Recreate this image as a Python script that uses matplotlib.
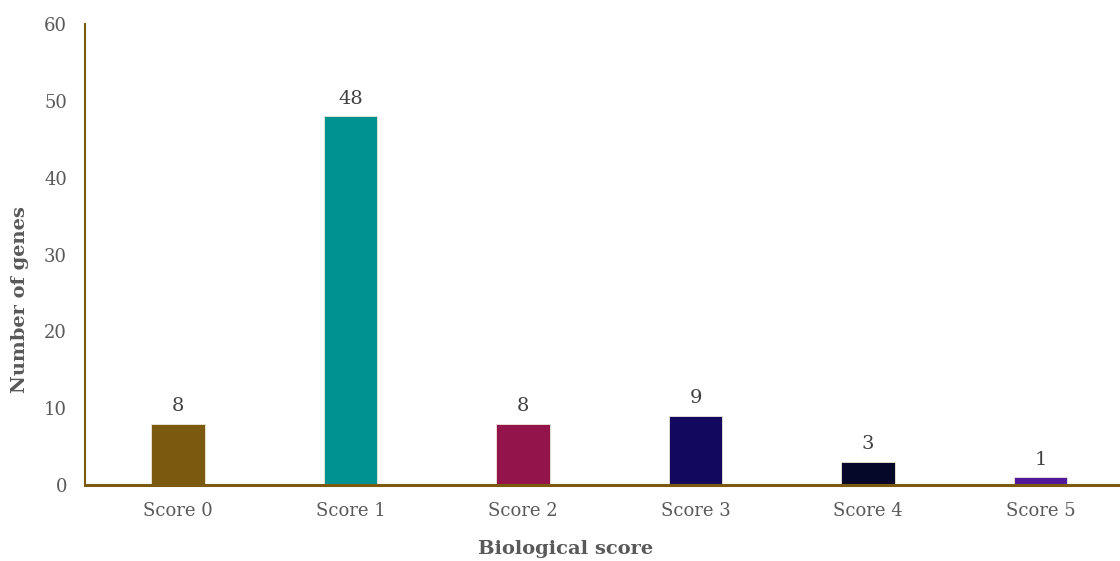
import matplotlib
matplotlib.use("Agg")
import matplotlib.pyplot as plt

categories = ["Score 0", "Score 1", "Score 2", "Score 3", "Score 4", "Score 5"]
values = [8, 48, 8, 9, 3, 1]
colors = ["#7B5A10", "#009191", "#93134B", "#12095E", "#050828", "#50199C"]
yticks = [0, 10, 20, 30, 40, 50, 60]

plt.rcParams['font.family'] = ['DejaVu Serif']
fig = plt.figure(figsize=(11.2, 5.61), dpi=100)
ax = fig.add_axes([0.0759, 0.1355, 0.9241, 0.8215])

x = range(len(categories))
bars = ax.bar(x, values, width=0.31, color=colors, edgecolor="#f0e8d8", linewidth=0.6, zorder=2)
for xi, v in zip(x, values):
    ax.text(xi, v + 1.1, str(v), ha="center", va="bottom", fontsize=14, color="#404040")

ax.set_xlim(-0.54, 5.46)
ax.set_ylim(0, 60)
ax.set_xticks(list(x))
ax.set_xticklabels(categories, fontsize=13, color="#595959")
ax.set_yticks(yticks)
ax.set_yticklabels([str(t) for t in yticks], fontsize=13, color="#595959")
ax.tick_params(length=0, pad=12)
ax.tick_params(axis='y', pad=13)

for s in ["top", "right"]:
    ax.spines[s].set_visible(False)
ax.spines["left"].set_color("#7B5A10")
ax.spines["left"].set_linewidth(1.5)
ax.spines["bottom"].set_color("#7B5A10")
ax.spines["bottom"].set_linewidth(2.2)

ax.set_xlabel("Biological score", fontsize=14, fontweight="bold", color="#595959")
ax.set_ylabel("Number of genes", fontsize=14, fontweight="bold", color="#595959")
ax.xaxis.set_label_coords((566 - 85) / 1035, -(549 - 485) / 461, transform=ax.transAxes)
ax.yaxis.set_label_coords(-(85 - 20) / 1035, (485 - 300) / 461, transform=ax.transAxes)
ax.xaxis.label.set_va("center")
ax.yaxis.label.set_va("center")

fig.savefig("out.png", dpi=100)
